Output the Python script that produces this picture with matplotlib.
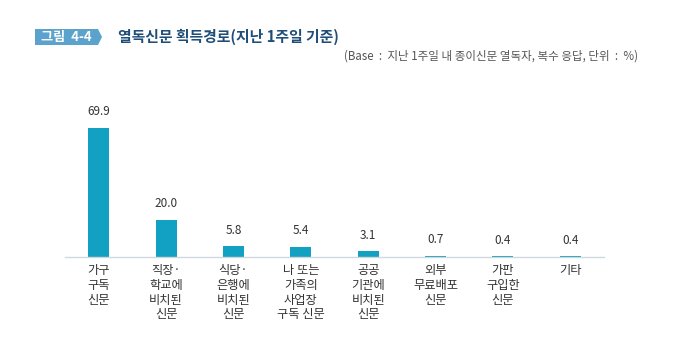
import matplotlib
matplotlib.use("Agg")
import matplotlib.pyplot as plt
from matplotlib.patches import Polygon

plt.rcParams['font.family'] = ['Noto Sans CJK KR', 'DejaVu Sans']

categories = ["가구\n구독\n신문", "직장·\n학교에\n비치된\n신문", "식당·\n은행에\n비치된\n신문",
              "나 또는\n가족의\n사업장\n구독 신문", "공공\n기관에\n비치된\n신문",
              "외부\n무료배포\n신문", "가판\n구입한\n신문", "기타"]
values = [69.9, 20.0, 5.8, 5.4, 3.1, 0.7, 0.4, 0.4]
value_labels = ["69.9", "20.0", "5.8", "5.4", "3.1", "0.7", "0.4", "0.4"]

W, H = 680, 346
fig = plt.figure(figsize=(W/100, H/100), dpi=100)
fig.patch.set_facecolor('white')

ax = fig.add_axes([65/W, 89/H, 539/W, 177/H])
x = list(range(len(values)))
ax.bar(x, values, width=0.31, color='#12a0c3')
ax.set_xlim(-0.5, 7.5)
ax.set_ylim(0, 96)
for s in ['top', 'right', 'left']:
    ax.spines[s].set_visible(False)
ax.spines['bottom'].set_color('#cfd8dc')
ax.spines['bottom'].set_linewidth(1.0)
ax.set_yticks([])
ax.set_xticks([])

for i, (v, lab) in enumerate(zip(values, value_labels)):
    ax.annotate(lab, (i, v), xytext=(0, 7), textcoords='offset points',
                ha='center', va='bottom', fontsize=8.5, color='#333333')
for i, c in enumerate(categories):
    ax.annotate(c, (i, 0), xytext=(0, -5), textcoords='offset points',
                ha='center', va='top', fontsize=8.8, color='#333333', linespacing=1.18)

# badge
pts = [(35, 29), (98, 29), (102, 37), (98, 45), (35, 45)]
poly = Polygon([(px/W, 1 - py/H) for px, py in pts], closed=True,
               transform=fig.transFigure, facecolor='#5ba3cc', edgecolor='none')
fig.patches.append(poly)
fig.text(66/W, 1 - 37/H, "그림  4-4", ha='center', va='center', color='white',
         fontsize=9.5, fontweight='bold')
fig.text(118/W, 1 - 37/H, "열독신문 획득경로(지난 1주일 기준)", ha='left', va='center',
         color='#1f4e79', fontsize=10.7, fontweight='bold')
fig.text(638/W, 1 - 56/H, "(Base  :  지난 1주일 내 종이신문 열독자, 복수 응답, 단위  :  %)",
         ha='right', va='center', color='#555555', fontsize=8.3)

fig.savefig('out.png', dpi=100, facecolor='white')
